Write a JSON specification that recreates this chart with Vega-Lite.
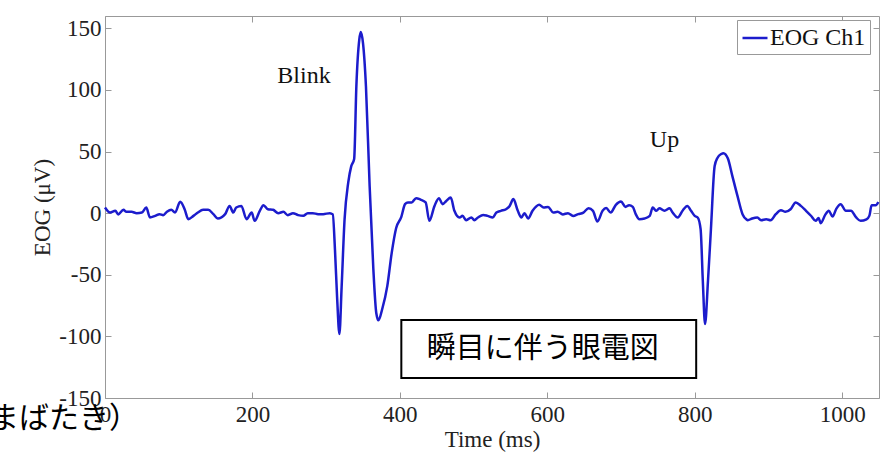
{
  "$schema": "https://vega.github.io/schema/vega-lite/v6.json",
  "width": 774,
  "height": 382,
  "autosize": {"type": "none"},
  "padding": {"left": 105, "top": 16, "right": 6, "bottom": 57},
  "background": "white",
  "config": {"view": {"stroke": null}, "font": "Liberation Serif"},
  "datasets": {
    "eog": [
      {"t": 0, "v": 4.6}, {"t": 7, "v": 0.5}, {"t": 14, "v": 1.9}, {"t": 18, "v": -1}, {"t": 25, "v": 2.7},
      {"t": 29, "v": 1.1}, {"t": 36, "v": 1.1}, {"t": 43, "v": 0}, {"t": 50, "v": 0.5}, {"t": 56, "v": 4.6},
      {"t": 61, "v": -3.5}, {"t": 68, "v": -2.2}, {"t": 74, "v": -0.8}, {"t": 79, "v": -1.6}, {"t": 84, "v": 1.1},
      {"t": 90, "v": 2.7}, {"t": 95, "v": 0.5}, {"t": 102, "v": 9.2}, {"t": 108, "v": 3.2}, {"t": 113, "v": -4.9},
      {"t": 120, "v": -2.2}, {"t": 126, "v": 0.5}, {"t": 133, "v": 2.7}, {"t": 140, "v": 2.7}, {"t": 147, "v": -0.8},
      {"t": 153, "v": -4.3}, {"t": 163, "v": -0.8}, {"t": 169, "v": 5.9}, {"t": 174, "v": 0.5}, {"t": 178, "v": 4.6},
      {"t": 185, "v": 5.9}, {"t": 192, "v": -4.9}, {"t": 199, "v": 0.5}, {"t": 203, "v": -6.2}, {"t": 210, "v": 1.9},
      {"t": 215, "v": 6.5}, {"t": 221, "v": 3.2}, {"t": 228, "v": 2.7}, {"t": 235, "v": 0}, {"t": 242, "v": 1.1},
      {"t": 248, "v": -1.6}, {"t": 255, "v": 0}, {"t": 262, "v": -1.6}, {"t": 269, "v": -2.2}, {"t": 275, "v": 0},
      {"t": 282, "v": 0}, {"t": 289, "v": -0.8}, {"t": 296, "v": -0.8}, {"t": 305, "v": 0}, {"t": 309, "v": -1},
      {"t": 312, "v": -30}, {"t": 315, "v": -70}, {"t": 318, "v": -98}, {"t": 321, "v": -60}, {"t": 325, "v": -5},
      {"t": 330, "v": 25}, {"t": 334, "v": 38}, {"t": 338, "v": 44}, {"t": 341, "v": 103}, {"t": 345, "v": 141},
      {"t": 347, "v": 147}, {"t": 350, "v": 138}, {"t": 354, "v": 103}, {"t": 359, "v": 22}, {"t": 364, "v": -45},
      {"t": 368, "v": -81}, {"t": 371, "v": -87}, {"t": 376, "v": -78}, {"t": 383, "v": -59}, {"t": 389, "v": -32},
      {"t": 395, "v": -12}, {"t": 402, "v": -3}, {"t": 407, "v": 7.3}, {"t": 411, "v": 8.7}, {"t": 416, "v": 8.7},
      {"t": 422, "v": 12.2}, {"t": 428, "v": 11}, {"t": 435, "v": 8.7}, {"t": 440, "v": -6.2}, {"t": 447, "v": 5.9},
      {"t": 453, "v": 12.2}, {"t": 458, "v": 7.3}, {"t": 463, "v": 9.9}, {"t": 469, "v": 12.7}, {"t": 474, "v": 1.9},
      {"t": 481, "v": -3.5}, {"t": 485, "v": -2.2}, {"t": 490, "v": -5.7}, {"t": 497, "v": -3.5}, {"t": 501, "v": -5.7},
      {"t": 506, "v": -3.5}, {"t": 513, "v": -1.4}, {"t": 519, "v": -2.2}, {"t": 526, "v": -3.5}, {"t": 531, "v": 0.5},
      {"t": 537, "v": 1.9}, {"t": 544, "v": 3.2}, {"t": 549, "v": 5.9}, {"t": 554, "v": 11.4}, {"t": 560, "v": 1.9},
      {"t": 565, "v": -3.5}, {"t": 569, "v": 0}, {"t": 574, "v": -4.3}, {"t": 580, "v": 1.9}, {"t": 589, "v": 6.8},
      {"t": 595, "v": 4.6}, {"t": 601, "v": 5.1}, {"t": 608, "v": 0.5}, {"t": 614, "v": 1.1}, {"t": 621, "v": -1},
      {"t": 628, "v": 0}, {"t": 635, "v": -2.3}, {"t": 642, "v": -0.8}, {"t": 649, "v": 0.5}, {"t": 656, "v": 4},
      {"t": 662, "v": 1.9}, {"t": 668, "v": -6.8}, {"t": 675, "v": 1.9}, {"t": 680, "v": 4.1}, {"t": 686, "v": 0.5},
      {"t": 693, "v": 6.8}, {"t": 700, "v": 9.5}, {"t": 706, "v": 5.1}, {"t": 711, "v": 6.5}, {"t": 716, "v": 5.1},
      {"t": 720, "v": -0.8}, {"t": 725, "v": -4.9}, {"t": 732, "v": -4.3}, {"t": 739, "v": -2.2}, {"t": 743, "v": 4.6},
      {"t": 748, "v": 1.9}, {"t": 752, "v": 3.9}, {"t": 759, "v": 1.9}, {"t": 766, "v": 3.9}, {"t": 770, "v": 0.5},
      {"t": 777, "v": -3.5}, {"t": 784, "v": 2.4}, {"t": 790, "v": 5.9}, {"t": 795, "v": 1.9}, {"t": 800, "v": -2.2},
      {"t": 804, "v": -3.5}, {"t": 808, "v": -13}, {"t": 811, "v": -55}, {"t": 814, "v": -90}, {"t": 818, "v": -55},
      {"t": 822, "v": -13}, {"t": 827, "v": 38}, {"t": 831, "v": 45}, {"t": 836, "v": 48}, {"t": 839, "v": 48.7},
      {"t": 845, "v": 44.4}, {"t": 851, "v": 30.3}, {"t": 858, "v": 14}, {"t": 865, "v": -1}, {"t": 870, "v": -5},
      {"t": 872, "v": -5.7}, {"t": 878, "v": -4.3}, {"t": 885, "v": -3.5}, {"t": 890, "v": -5.7}, {"t": 897, "v": -4.9},
      {"t": 903, "v": -5.7}, {"t": 910, "v": -0.8}, {"t": 917, "v": 2.4}, {"t": 923, "v": 1.1}, {"t": 930, "v": 3.2},
      {"t": 937, "v": 8.7}, {"t": 944, "v": 5.9}, {"t": 951, "v": 1.9}, {"t": 958, "v": -2.3}, {"t": 964, "v": -6.2},
      {"t": 968, "v": -4}, {"t": 971, "v": -8.1}, {"t": 977, "v": -1.4}, {"t": 982, "v": 1.9}, {"t": 987, "v": -2.7},
      {"t": 992, "v": 3.5}, {"t": 998, "v": 7.3}, {"t": 1005, "v": 1.9}, {"t": 1012, "v": 1.9}, {"t": 1019, "v": -3.5},
      {"t": 1025, "v": -6.2}, {"t": 1033, "v": -5}, {"t": 1037, "v": -2}, {"t": 1040, "v": 6.5}, {"t": 1046, "v": 6.5},
      {"t": 1049, "v": 9}
    ],
    "labels": [
      {"t": 270, "v": 106, "label": "Blink"},
      {"t": 759, "v": 54, "label": "Up"}
    ],
    "box": [{"t1": 402, "t2": 802, "v1": -86.7, "v2": -133.8}],
    "boxText": [{"t": 594, "v": -110.4, "label": "瞬目に伴う眼電図"}],
    "corner": [{"t": 46, "v": -167, "label": "（まばたき）"}],
    "frame": [{"t": 0, "v": 0}]
  },
  "layer": [
    {
      "data": {"name": "box"},
      "mark": {"type": "rect", "fill": "white", "stroke": "black", "strokeWidth": 2},
      "encoding": {
        "x": {"field": "t1", "type": "quantitative", "scale": {"domain": [0, 1050], "nice": false, "zero": false}, "axis": null},
        "x2": {"field": "t2"},
        "y": {"field": "v1", "type": "quantitative", "scale": {"domain": [-150, 160], "nice": false, "zero": false}, "axis": null},
        "y2": {"field": "v2"}
      }
    },
    {
      "data": {"name": "eog"},
      "mark": {"type": "line", "strokeWidth": 2.5, "interpolate": "monotone"},
      "encoding": {
        "x": {
          "field": "t", "type": "quantitative",
          "scale": {"domain": [0, 1050], "nice": false, "zero": false},
          "axis": {
            "orient": "bottom", "title": "Time (ms)", "values": [0, 200, 400, 600, 800, 1000],
            "labelExpr": "toString(datum.value)",
            "grid": false, "domainColor": "#999999", "tickColor": "#999999", "tickSize": -6,
            "labelPadding": 11, "labelFont": "Liberation Serif", "labelFontSize": 23, "labelColor": "#222222",
            "labelFlush": false, "labelOverlap": false,
            "titleFont": "Liberation Serif", "titleFontSize": 23, "titleFontWeight": "normal", "titleColor": "#222222",
            "titlePadding": 2
          }
        },
        "y": {
          "field": "v", "type": "quantitative",
          "scale": {"domain": [-150, 160], "nice": false, "zero": false},
          "axis": {
            "orient": "left", "title": "EOG (μV)", "values": [-150, -100, -50, 0, 50, 100, 150],
            "labelExpr": "toString(datum.value)",
            "grid": false, "domainColor": "#999999", "tickColor": "#999999", "tickSize": -6,
            "labelPadding": 10, "labelFont": "Liberation Serif", "labelFontSize": 23, "labelColor": "#222222",
            "labelFlush": false, "labelOverlap": false,
            "titleFont": "Liberation Serif", "titleFontSize": 23, "titleFontWeight": "normal", "titleColor": "#222222",
            "titlePadding": 4
          }
        },
        "color": {
          "datum": "EOG Ch1", "type": "nominal",
          "scale": {"range": ["#1c1ccc"]},
          "legend": {
            "title": null, "orient": "none", "legendX": 632, "legendY": 4,
            "symbolType": "stroke", "symbolSize": 625, "symbolStrokeWidth": 2.5,
            "labelFont": "Liberation Serif", "labelFontSize": 24, "labelColor": "#111111", "labelOffset": 1,
            "padding": 4, "strokeColor": "#999999", "fillColor": "white", "cornerRadius": 0
          }
        }
      }
    },
    {
      "data": {"name": "labels"},
      "mark": {"type": "text", "font": "Liberation Serif", "fontSize": 24, "color": "#111111", "align": "center", "baseline": "alphabetic"},
      "encoding": {
        "x": {"field": "t", "type": "quantitative", "scale": {"domain": [0, 1050], "nice": false, "zero": false}, "axis": null},
        "y": {"field": "v", "type": "quantitative", "scale": {"domain": [-150, 160], "nice": false, "zero": false}, "axis": null},
        "text": {"field": "label"}
      }
    },
    {
      "data": {"name": "boxText"},
      "mark": {"type": "text", "font": "Noto Sans CJK JP", "fontSize": 29, "color": "black", "align": "center", "baseline": "middle"},
      "encoding": {
        "x": {"field": "t", "type": "quantitative", "scale": {"domain": [0, 1050], "nice": false, "zero": false}, "axis": null},
        "y": {"field": "v", "type": "quantitative", "scale": {"domain": [-150, 160], "nice": false, "zero": false}, "axis": null},
        "text": {"field": "label"}
      }
    },
    {
      "data": {"name": "corner"},
      "mark": {"type": "text", "font": "Noto Sans CJK JP", "fontSize": 30, "color": "black", "align": "right", "baseline": "middle"},
      "encoding": {
        "x": {"field": "t", "type": "quantitative", "scale": {"domain": [0, 1050], "nice": false, "zero": false}, "axis": null},
        "y": {"field": "v", "type": "quantitative", "scale": {"domain": [-150, 160], "nice": false, "zero": false}, "axis": null},
        "text": {"field": "label"}
      }
    },
    {
      "data": {"name": "frame"},
      "mark": {"type": "point", "opacity": 0},
      "encoding": {
        "x": {
          "field": "t", "type": "quantitative",
          "scale": {"domain": [0, 1050], "nice": false, "zero": false},
          "axis": {"orient": "top", "title": null, "labels": false, "values": [0, 200, 400, 600, 800, 1000], "grid": false, "domainColor": "#999999", "tickColor": "#999999", "tickSize": -6}
        },
        "y": {
          "field": "v", "type": "quantitative",
          "scale": {"domain": [-150, 160], "nice": false, "zero": false},
          "axis": {"orient": "right", "title": null, "labels": false, "values": [-150, -100, -50, 0, 50, 100, 150], "grid": false, "domainColor": "#999999", "tickColor": "#999999", "tickSize": -6}
        }
      }
    }
  ],
  "resolve": {"axis": {"x": "independent", "y": "independent"}}
}
